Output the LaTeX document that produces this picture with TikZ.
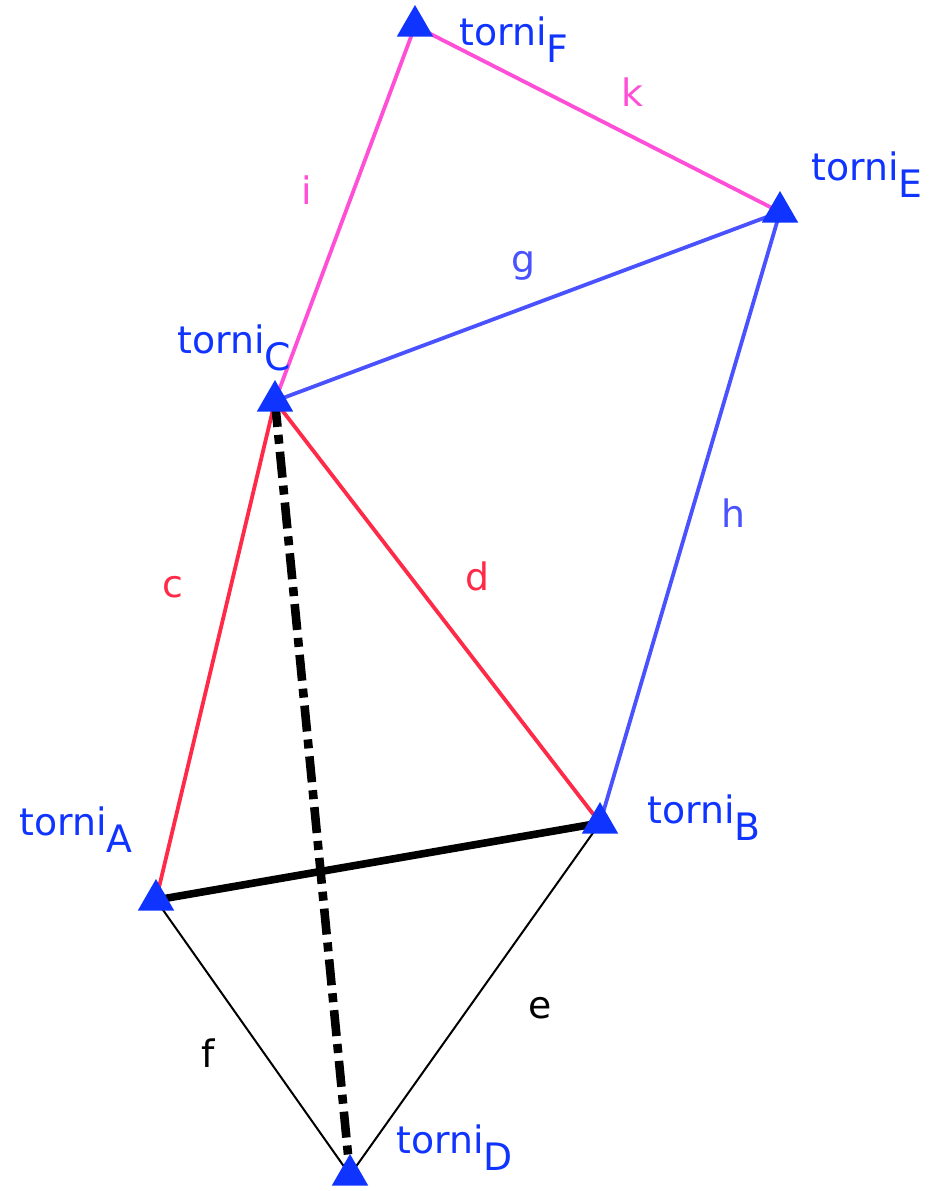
\documentclass[tikz,border=0pt]{standalone}
\usepackage{fontspec}
\setmainfont{DejaVu Sans}
\usepackage{xcolor}
\usetikzlibrary{shapes.geometric}
\definecolor{tower}{HTML}{1034FF}
\definecolor{pinkline}{HTML}{FF4FD6}
\definecolor{blueline}{HTML}{4A52FF}
\definecolor{redline}{HTML}{FF2A48}
\newcommand{\torni}[1]{torni\raisebox{-0.45em}{#1}}

\begin{document}
\begin{tikzpicture}[x=0.5pt, y=-0.5pt,
    font=\fontsize{18.9}{22}\selectfont,
    marker/.style={regular polygon, regular polygon sides=3, fill=tower,
      inner sep=0pt, minimum size=21pt},
    tname/.style={anchor=base west, inner sep=0pt, text=tower},
    elabel/.style={inner sep=0pt}]
  \useasboundingbox (0,0) rectangle (930,1191);
  % tower positions
  \coordinate (A) at (156,900);
  \coordinate (B) at (600,823);
  \coordinate (C) at (275,401);
  \coordinate (D) at (350,1175);
  \coordinate (E) at (780,212);
  \coordinate (F) at (415,26);

  % edges
  \draw[pinkline, line width=1.9pt] (C) -- (F) -- (E);
  \draw[blueline, line width=1.9pt] (C) -- (E) -- (B);
  \draw[redline, line width=1.9pt] (A) -- (C) -- (B);
  \draw[black, line width=1pt] (A) -- (D) -- (B);
  \draw[black, line width=3.8pt] (A) -- (B);
  \draw[black, line width=4.3pt, dash pattern=on 13pt off 4pt on 4.5pt off 4pt] (C) -- (D);

  % edge labels
  \node[elabel, text=pinkline] (li) at (307,190) {i};
  \node[elabel, text=pinkline] (lk) at (632,92) {k};
  \node[elabel, text=blueline] (lg) at (523,266) {g};
  \node[elabel, text=blueline] (lh) at (733,513) {h};
  \node[elabel, text=redline] (ld) at (477,576) {d};
  \node[elabel, text=redline] (lc) at (173,587) {c};
  \node[elabel] (lf) at (208,1053) {f};
  \node[elabel] (le) at (540,1008) {e};

  % towers
  \foreach \p in {A,B,C,D,E,F}
    \node[marker] (m\p) at (\p) {};
  \node[tname] (nA) at (19,835) {\torni{A}};
  \node[tname] (nB) at (647,823) {\torni{B}};
  \node[tname] (nC) at (177,353) {\torni{C}};
  \node[tname] (nD) at (396,1153) {\torni{D}};
  \node[tname] (nE) at (811,180) {\torni{E}};
  \node[tname] (nF) at (459,45) {\torni{F}};
\end{tikzpicture}
\end{document}
